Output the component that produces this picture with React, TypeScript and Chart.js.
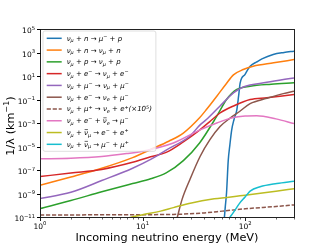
import React, { useEffect, useRef } from "react";
import { Chart, registerables } from "chart.js";

Chart.register(...registerables);

// ---------------- data ----------------
const xMin = 1;
const xMax = 300;
const yMin = 1e-11;
const yMax = 1e5;

const xMajorTicks = [1, 10, 100];
const xTickLabels = ["10^{0}", "10^{1}", "10^{2}"];
const xMinorTicks = [2, 3, 4, 5, 6, 7, 8, 9, 20, 30, 40, 50, 60, 70, 80, 90, 200, 300];
const yMajorTicks = [1e5, 1e3, 1e1, 1e-1, 1e-3, 1e-5, 1e-7, 1e-9, 1e-11];
const yTickLabels = ["10^{5}", "10^{3}", "10^{1}", "10^{−1}", "10^{−3}", "10^{−5}", "10^{−7}", "10^{−9}", "10^{−11}"];

const xTitle = "Incoming neutrino energy (MeV)";
const yTitle = "1/λ (km^{−1})";

const seriesLabels = [
  "ν_{μ} + n → μ^{−} + p",
  "ν_{μ} + n → ν_{μ} + n",
  "ν_{μ} + p → ν_{μ} + p",
  "ν_{μ} + e^{−} → ν_{μ} + e^{−}",
  "ν_{μ} + μ^{−} → ν_{μ} + μ^{−}",
  "ν_{μ} + e^{−} → ν_{e} + μ^{−}",
  "ν_{μ} + μ^{+} → ν_{e} + e^{+}(×10^{5})",
  "ν_{μ} + e^{−} + ~{ν}_{e} → μ^{−}",
  "ν_{μ} + ~{ν}_{μ} → e^{−} + e^{+}",
  "ν_{μ} + ~{ν}_{μ} → μ^{−} + μ^{+}",
];
const seriesColors = ["#1f77b4", "#ff7f0e", "#2ca02c", "#d62728", "#9467bd", "#8c564b", "#8c564b", "#e377c2", "#bcbd22", "#17becf"];
const seriesDashed = [false, false, false, false, false, false, true, false, false, false];

const energyNMuP = [62.5, 64, 66, 68.5, 71, 74, 78, 83, 86.5, 89.5, 100, 112, 130, 146, 188, 240, 300];
const rateNMuP = [5.0e-12, 6.3e-11, 1.26e-9, 6.3e-7, 1.26e-5, 2.5e-4, 2.0e-3, 1.26e-2, 0.2, 2.5, 14, 67.6, 158, 288, 676, 1000, 1288];

const energyNN = [1, 2, 4, 8, 12, 18, 25, 36, 42, 53, 65, 77, 96, 120, 190, 300];
const rateNN = [5.0e-9, 2.5e-8, 1.4e-7, 1.12e-6, 5.6e-6, 2.8e-5, 1.4e-4, 2.8e-3, 1.4e-2, 0.19, 2.0, 12.6, 35.5, 67.6, 132, 251];

const energyPP = [1, 2, 4, 8, 12, 17, 25, 36, 53, 66, 83, 112, 180, 300];
const ratePP = [5.25e-11, 2.5e-10, 1.41e-9, 7.1e-9, 1.78e-8, 5.6e-8, 6.3e-7, 2.0e-5, 3.8e-3, 0.1, 0.71, 1.35, 2.0, 2.63];

const energyEE = [1, 2, 4, 8, 12, 17, 25, 36, 45, 57, 77, 112, 163, 230, 300];
const rateEE = [2.75e-8, 5.6e-8, 1.12e-7, 4.5e-7, 1.32e-6, 3.16e-6, 2.5e-5, 2.5e-4, 1.26e-3, 7.1e-3, 2.8e-2, 0.1, 0.141, 0.2, 0.27];

const energyMuMu = [1, 2, 4, 8, 12, 17, 29, 36, 42, 57, 77, 96, 163, 300];
const rateMuMu = [3.7e-10, 1.26e-9, 1.26e-8, 1.41e-7, 7.9e-7, 5.0e-6, 7.9e-5, 6.3e-4, 2.0e-3, 2.8e-2, 0.363, 1.17, 2.88, 6.9];

const energyEMu = [21.7, 24.3, 29, 36.4, 45.6, 57, 71, 89, 112, 163, 236, 300];
const rateEMu = [7.9e-12, 3.16e-10, 1.58e-8, 1.41e-6, 3.98e-5, 5.0e-4, 2.5e-3, 1.0e-2, 4.5e-2, 0.126, 0.316, 0.5];

const energyMuPlus = [1, 10, 20, 40, 60, 100, 200, 300];
const rateMuPlus = [1.48e-11, 1.58e-11, 1.66e-11, 2.24e-11, 3.16e-11, 5.0e-11, 7.9e-11, 1.07e-10];

const energyEAnti = [1, 2, 4, 7, 10, 20, 36, 53, 75, 100, 130, 200, 300];
const rateEAnti = [8.9e-7, 1.0e-6, 1.41e-6, 2.5e-6, 3.98e-6, 2.0e-5, 2.5e-4, 1.0e-3, 2.8e-3, 3.98e-3, 4.2e-3, 2.24e-3, 8.9e-4];

const energyAnnEE = [7, 10, 15, 20, 30, 50, 100, 200, 300];
const rateAnnEE = [7.9e-12, 1.58e-11, 3.16e-11, 6.3e-11, 1.58e-10, 3.5e-10, 7.1e-10, 1.58e-9, 2.5e-9];

const energyAnnMuMu = [70, 77, 89, 100, 112, 140, 204, 300];
const rateAnnMuMu = [7.9e-12, 2.5e-11, 1.58e-10, 5.0e-10, 1.58e-9, 3.7e-9, 7.1e-9, 1.12e-8];

const seriesEnergies = [energyNMuP, energyNN, energyPP, energyEE, energyMuMu, energyEMu, energyMuPlus, energyEAnti, energyAnnEE, energyAnnMuMu];
const seriesRates = [rateNMuP, rateNN, ratePP, rateEE, rateMuMu, rateEMu, rateMuPlus, rateEAnti, rateAnnEE, rateAnnMuMu];

// ---------------- rich text helpers ----------------
type Seg = { t: string; k: "n" | "sub" | "sup" | "bar" };

function parseRich(s: string): Seg[] {
  const out: Seg[] = [];
  let buf = "";
  let i = 0;
  while (i < s.length) {
    const c = s[i];
    if ((c === "_" || c === "^" || c === "~") && s[i + 1] === "{") {
      if (buf) {
        out.push({ t: buf, k: "n" });
        buf = "";
      }
      const end = s.indexOf("}", i + 2);
      out.push({ t: s.slice(i + 2, end), k: c === "_" ? "sub" : c === "^" ? "sup" : "bar" });
      i = end + 1;
    } else {
      buf += c;
      i++;
    }
  }
  if (buf) out.push({ t: buf, k: "n" });
  return out;
}

const FAMILY = "'DejaVu Sans', sans-serif";

function fontFor(size: number, italic: boolean) {
  return `${italic ? "italic " : ""}${size}px ${FAMILY}`;
}

function richWidth(ctx: CanvasRenderingContext2D, segs: Seg[], size: number, italic: boolean) {
  let w = 0;
  for (const s of segs) {
    const sz = s.k === "sub" || s.k === "sup" ? size * 0.7 : size;
    ctx.font = fontFor(sz, italic);
    w += ctx.measureText(s.t).width;
  }
  return w;
}

function drawRich(
  ctx: CanvasRenderingContext2D,
  text: string,
  x: number,
  y: number,
  size: number,
  italic: boolean,
  align: "left" | "right" | "center",
  color: string
) {
  const segs = parseRich(text);
  const w = richWidth(ctx, segs, size, italic);
  let cx = align === "left" ? x : align === "right" ? x - w : x - w / 2;
  ctx.fillStyle = color;
  ctx.strokeStyle = color;
  ctx.textAlign = "left";
  ctx.textBaseline = "alphabetic";
  for (const s of segs) {
    const small = s.k === "sub" || s.k === "sup";
    const sz = small ? size * 0.7 : size;
    ctx.font = fontFor(sz, italic);
    const dy = s.k === "sub" ? size * 0.22 : s.k === "sup" ? -size * 0.42 : 0;
    ctx.fillText(s.t, cx, y + dy);
    const sw = ctx.measureText(s.t).width;
    if (s.k === "bar") {
      ctx.beginPath();
      ctx.lineWidth = 0.6;
      ctx.moveTo(cx + sw * 0.15, y - size * 0.78);
      ctx.lineTo(cx + sw * 1.0, y - size * 0.78);
      ctx.stroke();
    }
    cx += sw;
  }
  return w;
}

// ---------------- overlay plugin ----------------
const overlayPlugin = {
  id: "overlay",
  afterDraw(chart: any) {
    const ctx: CanvasRenderingContext2D = chart.ctx;
    const { left, top, right, bottom } = chart.chartArea;
    const xs = chart.scales.x;
    const ys = chart.scales.y;
    ctx.save();

    // legend
    const lfs = 7;
    const rowY = (i: number) => 38.3 + i * 11.78;
    let maxW = 0;
    seriesLabels.forEach((l) => {
      maxW = Math.max(maxW, richWidth(ctx, parseRich(l), lfs, true));
    });
    const bx = 43;
    const by = 31;
    const bw = 66.7 + maxW + 4 - bx;
    const bh = rowY(9) + 7 - by;
    ctx.beginPath();
    const r = 2;
    ctx.moveTo(bx + r, by);
    ctx.lineTo(bx + bw - r, by);
    ctx.quadraticCurveTo(bx + bw, by, bx + bw, by + r);
    ctx.lineTo(bx + bw, by + bh - r);
    ctx.quadraticCurveTo(bx + bw, by + bh, bx + bw - r, by + bh);
    ctx.lineTo(bx + r, by + bh);
    ctx.quadraticCurveTo(bx, by + bh, bx, by + bh - r);
    ctx.lineTo(bx, by + r);
    ctx.quadraticCurveTo(bx, by, bx + r, by);
    ctx.fillStyle = "rgba(255,255,255,0.8)";
    ctx.fill();
    ctx.strokeStyle = "rgba(204,204,204,0.8)";
    ctx.lineWidth = 0.8;
    ctx.stroke();

    seriesLabels.forEach((l, i) => {
      const yy = rowY(i);
      ctx.beginPath();
      ctx.strokeStyle = seriesColors[i];
      ctx.lineWidth = 1.5;
      ctx.setLineDash(seriesDashed[i] ? [4.2, 1.8] : []);
      ctx.moveTo(46.7, yy);
      ctx.lineTo(61.7, yy);
      ctx.stroke();
      ctx.setLineDash([]);
      drawRich(ctx, l, 66.7, yy + 2.5, lfs, true, "left", "#000");
    });

    // frame
    ctx.strokeStyle = "#222";
    ctx.lineWidth = 1;
    ctx.strokeRect(Math.round(left) + 0.5, Math.round(top) + 0.5, Math.round(right - left), Math.round(bottom - top));

    // x ticks
    const by0 = Math.round(bottom) + 0.5;
    ctx.beginPath();
    xMajorTicks.forEach((v) => {
      const px = Math.round(xs.getPixelForValue(v)) + 0.5;
      ctx.moveTo(px, by0);
      ctx.lineTo(px, by0 + 3.5);
    });
    ctx.stroke();
    ctx.beginPath();
    ctx.lineWidth = 0.7;
    xMinorTicks.forEach((v) => {
      const px = Math.round(xs.getPixelForValue(v)) + 0.5;
      ctx.moveTo(px, by0);
      ctx.lineTo(px, by0 + 2);
    });
    ctx.stroke();
    xMajorTicks.forEach((v, i) => {
      const px = xs.getPixelForValue(v);
      drawRich(ctx, xTickLabels[i], px, bottom + 11.5, 7.5, false, "center", "#000");
    });

    // y ticks
    const lx0 = Math.round(left) + 0.5;
    ctx.beginPath();
    ctx.lineWidth = 1;
    yMajorTicks.forEach((v) => {
      const py = Math.round(ys.getPixelForValue(v)) + 0.5;
      ctx.moveTo(lx0, py);
      ctx.lineTo(lx0 - 3.5, py);
    });
    ctx.stroke();
    yMajorTicks.forEach((v, i) => {
      const py = ys.getPixelForValue(v);
      drawRich(ctx, yTickLabels[i], left - 5, py + 4, 7.5, false, "right", "#000");
    });

    // titles
    drawRich(ctx, xTitle, (left + right) / 2, 241, 11.3, false, "center", "#000");
    ctx.save();
    ctx.translate(14, (top + bottom) / 2 + 3);
    ctx.rotate(-Math.PI / 2);
    drawRich(ctx, yTitle, 0, 0, 11.3, false, "center", "#000");
    ctx.restore();

    ctx.restore();
  },
};

export default function App() {
  const ref = useRef<HTMLCanvasElement | null>(null);

  useEffect(() => {
    if (!ref.current) return;
    const datasets = seriesLabels.map((label, i) => ({
      label,
      data: seriesEnergies[i].map((e, j) => ({ x: e, y: seriesRates[i][j] })),
      borderColor: seriesColors[i],
      backgroundColor: seriesColors[i],
      borderWidth: 1.5,
      borderDash: seriesDashed[i] ? [4.2, 1.8] : [],
      pointRadius: 0,
      fill: false,
      cubicInterpolationMode: "monotone" as const,
      order: -i,
    }));
    const chart = new Chart(ref.current, {
      type: "line",
      data: { datasets },
      options: {
        responsive: false,
        animation: false,
        devicePixelRatio: 1,
        events: [],
        layout: { padding: { left: 40, right: 33, top: 29, bottom: 28 } },
        scales: {
          x: { type: "logarithmic", min: xMin, max: xMax, display: false },
          y: { type: "logarithmic", min: yMin, max: yMax, display: false },
        },
        plugins: { legend: { display: false }, tooltip: { enabled: false } },
      },
      plugins: [overlayPlugin],
    });
    return () => chart.destroy();
  }, []);

  return (
    <div style={{ position: "fixed", left: 0, top: 0, width: 327, height: 245, background: "#fff" }}>
      <canvas ref={ref} width={327} height={245} style={{ display: "block" }} />
    </div>
  );
}
